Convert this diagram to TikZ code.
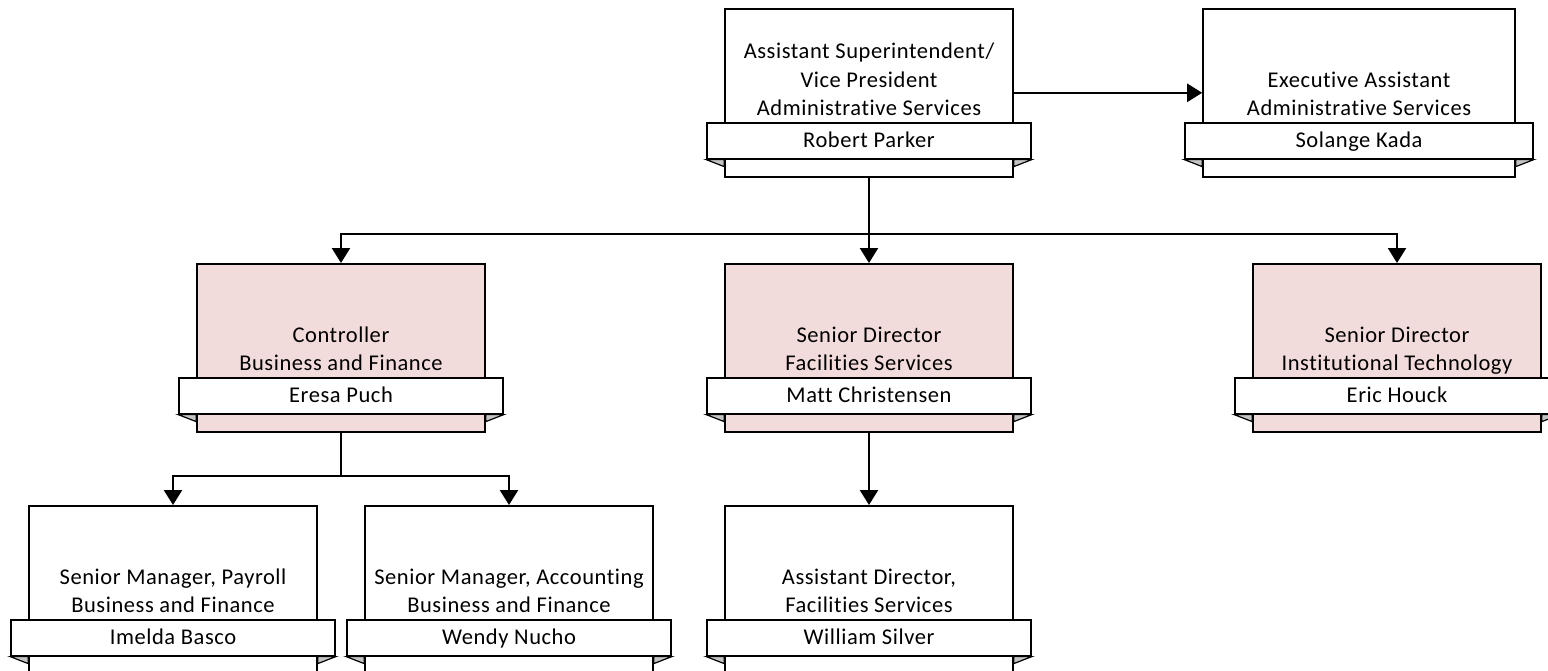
\documentclass[tikz,border=0pt]{standalone}
\usepackage{fontspec}
\setmainfont{Carlito}[LetterSpace=2.5, Ligatures={NoCommon}]
\usetikzlibrary{arrows.meta,calc}
\definecolor{pinkfill}{HTML}{F2DCDB}
\definecolor{foldgrey}{HTML}{C4C4C4}
\tikzset{
  unitbox/.style={draw=black, line width=1.6pt, rectangle, inner sep=0pt, minimum height=168pt},
  namebanner/.style={draw=black, fill=white, line width=1.6pt, rectangle, inner sep=0pt,
    minimum height=36pt, text height=14pt, text depth=0pt,
    font=\fontsize{22.5}{28.5}\selectfont},
  unittitle/.style={inner sep=0pt, align=center, font=\fontsize{22.5}{28.5}\selectfont},
  foldtri/.style={fill=foldgrey, draw=black, line width=1.2pt, line join=miter},
  conn/.style={line width=2.4pt},
  arr/.style={conn, -{Triangle[width=18pt,length=15pt]}}
}
% #1 name, #2 cx, #3 top, #4 width, #5 fill, #6 title, #7 person
\newcommand\orgunit[7]{%
  \node[unitbox, fill=#5, minimum width=#4, anchor=north] (#1) at (#2,#3) {};
  \node[namebanner, minimum width=#4+36, anchor=north] (#1N) at ($(#1.north)+(0,114)$) {#7};
  \filldraw[foldtri] (#1N.south west) -- (#1N.south west -| #1.west) -- ++(0,7) -- cycle;
  \filldraw[foldtri] (#1N.south east) -- (#1N.south east -| #1.east) -- ++(0,7) -- cycle;
  \node[unittitle, anchor=south] (#1T) at ($(#1N.north)+(0,-1)$) {#6\rule[-5pt]{0pt}{5pt}};
}
\begin{document}
\begin{tikzpicture}[x=1pt, y=-1pt]
\useasboundingbox (0,0) rectangle (1548,670);
\fill[white] (0,0) rectangle (1548,670);

% top row
\orgunit{vp}{869}{8}{288}{white}{Assistant Superintendent/\\Vice President\\Administrative Services}{Robert Parker}
\orgunit{ea}{1359}{8}{312}{white}{Executive Assistant\\Administrative Services}{Solange Kada}

% middle row
\orgunit{ctrl}{341}{263}{288}{pinkfill}{Controller\\Business and Finance}{Eresa Puch}
\orgunit{fac}{869}{263}{288}{pinkfill}{Senior Director\\Facilities Services}{Matt Christensen}
\orgunit{it}{1397}{263}{288}{pinkfill}{Senior Director\\Institutional Technology}{Eric Houck}

% bottom row
\orgunit{pay}{173}{505}{288}{white}{Senior Manager, Payroll\\Business and Finance}{Imelda Basco}
\orgunit{acc}{509}{505}{288}{white}{Senior Manager, Accounting\\Business and Finance}{Wendy Nucho}
\orgunit{ad}{869}{505}{288}{white}{Assistant Director,\\Facilities Services}{William Silver}

% connectors
\coordinate (bus) at (869,234);
\coordinate (cbus) at (341,476);
\draw[arr] (vp.east) -- (ea.west);
\draw[arr] (vp.south) -- (fac.north);
\draw[arr] (bus) -| (ctrl.north);
\draw[arr] (bus) -| (it.north);
\draw[conn] (ctrl.south) -- (cbus);
\draw[arr] (cbus) -| (pay.north);
\draw[arr] (cbus) -| (acc.north);
\draw[arr] (fac.south) -- (ad.north);
\end{tikzpicture}
\end{document}
